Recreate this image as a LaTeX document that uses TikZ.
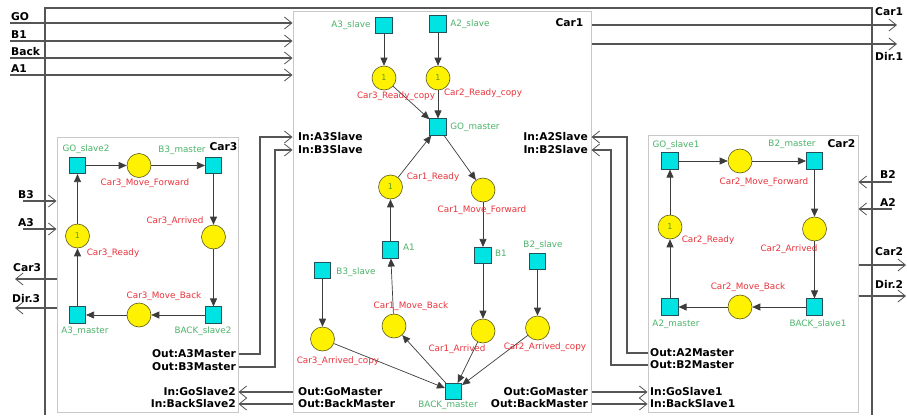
\documentclass[tikz,border=0pt]{standalone}
\usepackage{fontspec}
\setmainfont{DejaVu Sans}
\usetikzlibrary{arrows.meta}
\definecolor{lblred}{HTML}{E8343C}
\definecolor{lblgreen}{HTML}{4DB36A}
\definecolor{tokgreen}{HTML}{5A9A1E}
\definecolor{transfill}{HTML}{00E3E3}
\definecolor{transdraw}{HTML}{24505A}
\definecolor{placefill}{HTML}{FFF200}
\definecolor{placedraw}{HTML}{5A5A1A}
\definecolor{boxgray}{HTML}{C8C8C8}
\definecolor{framegray}{HTML}{555555}
\definecolor{arcgray}{HTML}{3C3C3C}
\tikzset{
 trans/.style={draw=transdraw, fill=transfill, minimum size=16.5pt, inner sep=0pt, line width=0.6pt},
 place/.style={circle, draw=placedraw, fill=placefill, minimum size=24pt, inner sep=0pt, line width=0.6pt, font=\fontsize{8}{8}\selectfont, text=tokgreen},
 rl/.style={text=lblred, font=\fontsize{8.8}{9}\selectfont, inner sep=0pt, text height=6.6pt, text depth=1.8pt},
 gl/.style={rl, text=lblgreen},
 bl/.style={font=\fontsize{10.7}{11}\selectfont\bfseries, inner sep=0pt, text=black},
 arc/.style={draw=arcgray, line width=0.7pt, -{Triangle[length=8pt,width=7pt]}},
 port/.style={draw=framegray, line width=1.1pt, -{Straight Barb[length=7.5pt,width=12pt,line width=0.8pt]}},
 boxframe/.style={draw=boxgray, line width=1pt, inner sep=0pt},
 outer/.style={draw=framegray, line width=1.3pt}
}
\begin{document}
\begin{tikzpicture}[x=1pt,y=-1pt]
\useasboundingbox (0,0) rectangle (907,415);
\fill[white] (0,0) rectangle (907,415);
% outer frame
\draw[outer] (45,415) -- (45,8) -- (872,8) -- (872,415);
% subsystem boxes
\node[boxframe, minimum width=298pt, minimum height=401pt] (car1) at (442,211.5) {};
\node[boxframe, minimum width=181pt, minimum height=275pt] (car3) at (147.5,274.5) {};
\node[boxframe, minimum width=210pt, minimum height=277pt] (car2) at (753,273.5) {};

% helper coordinates
\coordinate (inGO) at (10,23);
\coordinate (inB1) at (10,41);
\coordinate (inBack) at (10,58);
\coordinate (inA1) at (10,75);
\coordinate (outCar1) at (897,25);
\coordinate (outDir1) at (897,44);
\coordinate (inB2) at (892,182);
\coordinate (inA2) at (892,209);
\coordinate (outCar2) at (906,265);
\coordinate (outDir2) at (906,296);
\coordinate (inB3) at (23,201);
\coordinate (inA3) at (23,229);
\coordinate (outCar3) at (15,279);
\coordinate (outDir3) at (15,308);
\coordinate (ySA) at (0,137);
\coordinate (ySB) at (0,150);
\coordinate (yM3A) at (0,354);
\coordinate (yM3B) at (0,367);
\coordinate (yM2A) at (0,353);
\coordinate (yM2B) at (0,365);
\coordinate (yGoM) at (0,392);
\coordinate (yBkM) at (0,404);

% outer inputs / outputs
\draw[port] (inGO) -- (inGO -| car1.west);
\draw[port] (inB1) -- (inB1 -| car1.west);
\draw[port] (inBack) -- (inBack -| car1.west);
\draw[port] (inA1) -- (inA1 -| car1.west);
\draw[port] (outCar1 -| car1.east) -- (outCar1);
\draw[port] (outDir1 -| car1.east) -- (outDir1);
\draw[port] (inB2) -- (inB2 -| car2.east);
\draw[port] (inA2) -- (inA2 -| car2.east);
\draw[port] (outCar2 -| car2.east) -- (outCar2);
\draw[port] (outDir2 -| car2.east) -- (outDir2);
\draw[port] (inB3) -- (inB3 -| car3.west);
\draw[port] (inA3) -- (inA3 -| car3.west);
\draw[port] (outCar3 -| car3.west) -- (outCar3);
\draw[port] (outDir3 -| car3.west) -- (outDir3);

\node[bl, anchor=base west] (tGO) at (11,20) {GO};
\node[bl, anchor=base west] (tB1) at (11,38) {B1};
\node[bl, anchor=base west] (tBack) at (11,55) {Back};
\node[bl, anchor=base west] (tA1) at (11,72) {A1};
\node[bl, anchor=base west] (tCar1) at (875,16) {Car1};
\node[bl, anchor=base west] (tDir1) at (875,60) {Dir.1};
\node[bl, anchor=base west] (tB2) at (880,178) {B2};
\node[bl, anchor=base west] (tA2) at (880,206) {A2};
\node[bl, anchor=base west] (tCar2) at (875,255) {Car2};
\node[bl, anchor=base west] (tDir2) at (875,288) {Dir.2};
\node[bl, anchor=base west] (tB3) at (18,198) {B3};
\node[bl, anchor=base west] (tA3) at (18,226) {A3};
\node[bl, anchor=base west] (tCar3) at (13,271) {Car3};
\node[bl, anchor=base west] (tDir3) at (12,302) {Dir.3};

% inter-box connections
\draw[port] (car3.east |- yM3A) -| (260,137) -- (car1.west |- ySA);
\draw[port] (car3.east |- yM3B) -| (275,150) -- (car1.west |- ySB);
\draw[port] (car2.west |- yM2A) -| (627,137) -- (car1.east |- ySA);
\draw[port] (car2.west |- yM2B) -| (611,150) -- (car1.east |- ySB);
\draw[port] (car1.west |- yGoM) -- (car3.east |- yGoM);
\draw[port] (car1.west |- yBkM) -- (car3.east |- yBkM);
\draw[port] (car1.east |- yGoM) -- (car2.west |- yGoM);
\draw[port] (car1.east |- yBkM) -- (car2.west |- yBkM);

% port labels
\node[bl, anchor=west] (pInA3) at (298,137) {In:A3Slave};
\node[bl, anchor=west] (pInB3) at (298,150) {In:B3Slave};
\node[bl, anchor=east] (pInA2) at (588,137) {In:A2Slave};
\node[bl, anchor=east] (pInB2) at (588,150) {In:B2Slave};
\node[bl, anchor=east] (pOutA3) at (236,354) {Out:A3Master};
\node[bl, anchor=east] (pOutB3) at (236,367) {Out:B3Master};
\node[bl, anchor=west] (pOutA2) at (650,353) {Out:A2Master};
\node[bl, anchor=west] (pOutB2) at (650,365) {Out:B2Master};
\node[bl, anchor=west] (pGoL) at (298,392) {Out:GoMaster};
\node[bl, anchor=west] (pBkL) at (298,404) {Out:BackMaster};
\node[bl, anchor=east] (pGoR) at (588,392) {Out:GoMaster};
\node[bl, anchor=east] (pBkR) at (588,404) {Out:BackMaster};
\node[bl, anchor=east] (pGoS2) at (236,392) {In:GoSlave2};
\node[bl, anchor=east] (pBkS2) at (236,404) {In:BackSlave2};
\node[bl, anchor=west] (pGoS1) at (650,392) {In:GoSlave1};
\node[bl, anchor=west] (pBkS1) at (650,404) {In:BackSlave1};

% box titles
\node[bl, anchor=base] (lcar1) at (569.5,27) {Car1};
\node[bl, anchor=base] (lcar3) at (223.5,150) {Car3};
\node[bl, anchor=base] (lcar2) at (841.5,147) {Car2};

% ---------- Car3 net ----------
\node[trans] (gs2) at (77.5,165.5) {};
\node[place] (c3mf) at (139,165.5) {};
\node[trans] (b3m) at (213.5,165.5) {};
\node[place] (c3arr) at (213.5,237) {};
\node[trans] (bs2) at (213.5,315) {};
\node[place] (c3mb) at (139,315) {};
\node[trans] (a3m) at (77.5,315) {};
\node[place] (c3rdy) at (77.5,236) {1};
\draw[arc] (gs2) -- (c3mf);
\draw[arc] (c3mf) -- (b3m);
\draw[arc] (b3m) -- (c3arr);
\draw[arc] (c3arr) -- (bs2);
\draw[arc] (bs2) -- (c3mb);
\draw[arc] (c3mb) -- (a3m);
\draw[arc] (a3m) -- (c3rdy);
\draw[arc] (c3rdy) -- (gs2);
\node[gl] (lgs2) at (86,149) {GO\_slave2};
\node[rl] (lc3mf) at (145,183) {Car3\_Move\_Forward};
\node[gl] (lb3m) at (182,150) {B3\_master};
\node[rl] (lc3arr) at (175,221) {Car3\_Arrived};
\node[rl] (lc3rdy) at (113,253) {Car3\_Ready};
\node[rl] (lc3mb) at (164,296) {Car3\_Move\_Back};
\node[gl] (la3m) at (85,331) {A3\_master};
\node[gl] (lbs2) at (203,331) {BACK\_slave2};

% ---------- Car2 net ----------
\node[trans] (gs1) at (670,161) {};
\node[place] (c2mf) at (740,161) {};
\node[trans] (b2m) at (814.5,161) {};
\node[place] (c2arr) at (814.5,229) {};
\node[trans] (bs1) at (814.5,307) {};
\node[place] (c2mb) at (740,307) {};
\node[trans] (a2m) at (670,307) {};
\node[place] (c2rdy) at (670,227) {1};
\draw[arc] (gs1) -- (c2mf);
\draw[arc] (c2mf) -- (b2m);
\draw[arc] (b2m) -- (c2arr);
\draw[arc] (c2arr) -- (bs1);
\draw[arc] (bs1) -- (c2mb);
\draw[arc] (c2mb) -- (a2m);
\draw[arc] (a2m) -- (c2rdy);
\draw[arc] (c2rdy) -- (gs1);
\node[gl] (lgs1) at (676,145) {GO\_slave1};
\node[rl] (lc2mf) at (764,182) {Car2\_Move\_Forward};
\node[gl] (lb2m) at (792,144) {B2\_master};
\node[rl] (lc2arr) at (789,249) {Car2\_Arrived};
\node[rl] (lc2rdy) at (708,240) {Car2\_Ready};
\node[rl] (lc2mb) at (748,287) {Car2\_Move\_Back};
\node[gl] (la2m) at (676,324) {A2\_master};
\node[gl] (lbs1) at (818,324) {BACK\_slave1};

% ---------- Car1 net ----------
\node[trans] (a3s) at (384,25.5) {};
\node[trans] (a2s) at (438,24) {};
\node[place] (c3rc) at (384,78) {1};
\node[place] (c2rc) at (438,78) {1};
\node[trans] (gom) at (438,127) {};
\node[place] (c1rdy) at (390.5,187) {1};
\node[place] (c1mf) at (483,190) {};
\node[trans] (a1) at (390.5,250) {};
\node[trans] (b1) at (483,255.5) {};
\node[trans] (b2s) at (537.5,261.5) {};
\node[trans] (b3s) at (322.5,270.5) {};
\node[place] (c1mb) at (394,326) {};
\node[place] (c3ac) at (322.5,339) {};
\node[place] (c1arr) at (483,331) {};
\node[place] (c2ac) at (537.5,328) {};
\node[trans] (bm) at (453.5,391.5) {};
\draw[arc] (a3s) -- (c3rc);
\draw[arc] (a2s) -- (c2rc);
\draw[arc] (c3rc) -- (gom);
\draw[arc] (c2rc) -- (gom);
\draw[arc] (c1rdy) -- (gom);
\draw[arc] (gom) -- (c1mf);
\draw[arc] (c1mf) -- (b1);
\draw[arc] (b1) -- (c1arr);
\draw[arc] (b2s) -- (c2ac);
\draw[arc] (b3s) -- (c3ac);
\draw[arc] (c3ac) -- (bm);
\draw[arc] (c1arr) -- (bm);
\draw[arc] (c2ac) -- (bm);
\draw[arc] (bm) -- (c1mb);
\draw[arc] (c1mb) -- (a1);
\draw[arc] (a1) -- (c1rdy);
\node[gl] (la3s) at (351,25) {A3\_slave};
\node[gl] (la2s) at (470,24) {A2\_slave};
\node[rl] (lc3rc) at (396,96) {Car3\_Ready\_copy};
\node[rl] (lc2rc) at (483,93) {Car2\_Ready\_copy};
\node[gl] (lgom) at (475,127) {GO\_master};
\node[rl] (lc1rdy) at (433,177) {Car1\_Ready};
\node[rl] (lc1mf) at (482,210) {Car1\_Move\_Forward};
\node[gl] (la1) at (409,248) {A1};
\node[gl] (lb1) at (501,254) {B1};
\node[gl] (lb2s) at (543,245) {B2\_slave};
\node[gl] (lb3s) at (356,272) {B3\_slave};
\node[rl] (lc1mb) at (411,306) {Car1\_Move\_Back};
\node[rl] (lc3ac) at (338,361) {Car3\_Arrived\_copy};
\node[rl] (lc1arr) at (457,349) {Car1\_Arrived};
\node[rl] (lc2ac) at (545,347) {Car2\_Arrived\_copy};
\node[gl] (lbm) at (448,405) {BACK\_master};
\end{tikzpicture}
\end{document}
